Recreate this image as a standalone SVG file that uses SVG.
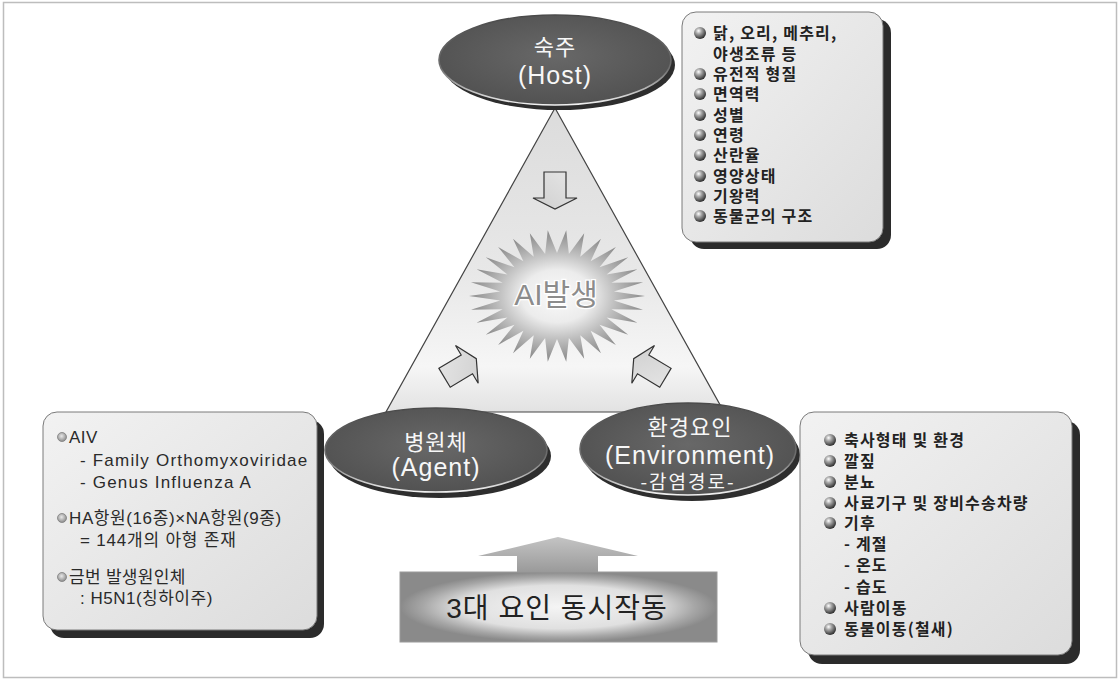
<svg xmlns="http://www.w3.org/2000/svg" width="1120" height="679" viewBox="0 0 1120 679">
<defs>
<linearGradient id="triG" x1="0" y1="0" x2="0" y2="1">
<stop offset="0" stop-color="#dcdcdc"/>
<stop offset="0.55" stop-color="#e8e8e8"/>
<stop offset="0.85" stop-color="#f6f6f6"/>
<stop offset="1" stop-color="#e2e2e2"/>
</linearGradient>
<radialGradient id="burstG" cx="0.5" cy="0.5" r="0.5">
<stop offset="0" stop-color="#fafafa"/>
<stop offset="0.4" stop-color="#ececec"/>
<stop offset="0.68" stop-color="#bcbcbc"/>
<stop offset="1" stop-color="#888888"/>
</radialGradient>
<radialGradient id="ellG" cx="0.5" cy="0.45" r="0.6">
<stop offset="0" stop-color="#686868"/>
<stop offset="1" stop-color="#505050"/>
</radialGradient>
<linearGradient id="ellS" x1="0" y1="0" x2="0" y2="1">
<stop offset="0" stop-color="#4a4a4a"/>
<stop offset="0.6" stop-color="#707070"/>
<stop offset="1" stop-color="#f2f2f2"/>
</linearGradient>
<linearGradient id="boxG" x1="0" y1="0" x2="1" y2="1">
<stop offset="0" stop-color="#f2f2f2"/>
<stop offset="1" stop-color="#dcdcdc"/>
</linearGradient>
<radialGradient id="ball" cx="0.38" cy="0.32" r="0.7">
<stop offset="0" stop-color="#ffffff"/>
<stop offset="0.35" stop-color="#a8a8a8"/>
<stop offset="1" stop-color="#2a2a2a"/>
</radialGradient>
<radialGradient id="dot" cx="0.45" cy="0.4" r="0.6">
<stop offset="0" stop-color="#e8e8e8"/>
<stop offset="1" stop-color="#8a8a8a"/>
</radialGradient>
<linearGradient id="arrG" x1="0" y1="0" x2="1" y2="1">
<stop offset="0" stop-color="#e6e6e6"/>
<stop offset="1" stop-color="#cfcfcf"/>
</linearGradient>
<radialGradient id="baseG" cx="0.5" cy="0.5" r="0.5">
<stop offset="0" stop-color="#f4f4f4"/>
<stop offset="0.62" stop-color="#e0e0e0"/>
<stop offset="0.86" stop-color="#a6a6a6"/>
<stop offset="1" stop-color="#8a8a8a"/>
</radialGradient>
<linearGradient id="upG" x1="0" y1="0" x2="0" y2="1">
<stop offset="0" stop-color="#c4c4c4"/>
<stop offset="1" stop-color="#9a9a9a"/>
</linearGradient>
<path id="blk" d="M-18,-11 L8,-11 L8,-22 L19,0 L8,22 L8,11 L-18,11 Z"/>
</defs>
<style>
.ko{font-family:'Noto Sans CJK KR','Noto Sans',sans-serif;}
.mx{font-family:'Liberation Sans','Noto Sans CJK KR',sans-serif;}
.eT{fill:#f7f7f7;text-anchor:middle;}
.eK{font-size:22px;letter-spacing:1px;}
.eL{font-size:25px;letter-spacing:1px;}
.shadow{fill:#2b2b2b;}
.box{fill:url(#boxG);stroke:#7a7a7a;stroke-width:1;}
.bt{font-size:16px;font-weight:bold;fill:#222;letter-spacing:1.2px;}
.at{font-size:17px;fill:#2a2a2a;}
.ball{fill:url(#ball);}
.dot{fill:url(#dot);stroke:#808080;stroke-width:0.8;}
.eSh{fill:#2e2e2e;}
.eMain{fill:url(#ellG);stroke:url(#ellS);stroke-width:1.6;}
.arr{fill:url(#arrG);stroke:#333;stroke-width:1.2;stroke-linejoin:miter;}
</style>
<rect x="3.5" y="2.5" width="1113" height="675" fill="#fff" stroke="#bdbdbd" stroke-width="1.5"/>

<g id="triangle">
<polygon points="555,108 386,412 724,412" fill="url(#triG)" stroke="#444" stroke-width="1.2"/>
</g>

<g id="ai-outbreak">
<path transform="translate(557,296) scale(0.88,0.66)" fill="url(#burstG)" d="M100,0 L64.6,6.8 97.8,20.8 61.8,20.1 91.4,40.7 56.3,32.5 80.9,58.8 48.3,43.5 66.9,74.3 38.2,52.6 50,86.6 26.4,59.4 30.9,95.1 13.5,63.6 10.5,99.5 0,65 -10.5,99.5 -13.5,63.6 -30.9,95.1 -26.4,59.4 -50,86.6 -38.2,52.6 -66.9,74.3 -48.3,43.5 -80.9,58.8 -56.3,32.5 -91.4,40.7 -61.8,20.1 -97.8,20.8 -64.6,6.8 -100,0 -64.6,-6.8 -97.8,-20.8 -61.8,-20.1 -91.4,-40.7 -56.3,-32.5 -80.9,-58.8 -48.3,-43.5 -66.9,-74.3 -38.2,-52.6 -50,-86.6 -26.4,-59.4 -30.9,-95.1 -13.5,-63.6 -10.5,-99.5 0,-65 10.5,-99.5 13.5,-63.6 30.9,-95.1 26.4,-59.4 50,-86.6 38.2,-52.6 66.9,-74.3 48.3,-43.5 80.9,-58.8 56.3,-32.5 91.4,-40.7 61.8,-20.1 97.8,-20.8 64.6,-6.8 Z"/>
<text x="556" y="305" class="mx" font-size="30" fill="#8c8c8c" stroke="#ffffff" stroke-width="2.5" paint-order="stroke" text-anchor="middle">AI발생</text>
</g>

<g id="connectors">
<use href="#blk" class="arr" transform="translate(555,190) rotate(90)"/>
<use href="#blk" class="arr" transform="translate(460,368.5) rotate(-31)"/>
<use href="#blk" class="arr" transform="translate(650,368.5) rotate(-149)"/>
<polygon points="517,572 517,556 478,556 558,537 638,556 598,556 598,572" fill="url(#upG)"/>
</g>

<g id="host">
<ellipse cx="559" cy="65" rx="116" ry="45" class="eSh"/>
<ellipse cx="555" cy="60" rx="116" ry="45" class="eMain"/>
<text x="555" y="55" class="ko eT eK">숙주</text>
<text x="555" y="84" class="mx eT eL">(Host)</text>
</g>

<g id="agent">
<ellipse cx="440" cy="456" rx="111" ry="42" class="eSh"/>
<ellipse cx="436" cy="450" rx="111" ry="42" class="eMain"/>
<text x="436" y="450" class="ko eT eK">병원체</text>
<text x="436" y="476" class="mx eT eL">(Agent)</text>
</g>

<g id="environment">
<ellipse cx="692" cy="455" rx="108" ry="46" class="eSh"/>
<ellipse cx="688" cy="449" rx="108" ry="46" class="eMain"/>
<text x="690" y="435" class="ko eT eK">환경요인</text>
<text x="690" y="464" class="mx eT eL" letter-spacing="1.8">(Environment)</text>
<text x="688" y="489" class="ko eT" font-size="19" letter-spacing="2">-감염경로-</text>
</g>

<g id="host-factors">
<rect x="690" y="19" width="201" height="230" rx="14" class="shadow"/>
<rect x="682" y="12" width="201" height="230" rx="14" class="box"/>
<circle cx="700" cy="33" r="6" class="ball"/>
<circle cx="700" cy="74" r="6" class="ball"/>
<circle cx="700" cy="94" r="6" class="ball"/>
<circle cx="700" cy="115" r="6" class="ball"/>
<circle cx="700" cy="135" r="6" class="ball"/>
<circle cx="700" cy="155" r="6" class="ball"/>
<circle cx="700" cy="176" r="6" class="ball"/>
<circle cx="700" cy="196" r="6" class="ball"/>
<circle cx="700" cy="216" r="6" class="ball"/>
<g class="ko bt">
<text x="713" y="39">닭, 오리, 메추리,</text>
<text x="713" y="60">야생조류 등</text>
<text x="713" y="80">유전적 형질</text>
<text x="713" y="100">면역력</text>
<text x="713" y="121">성별</text>
<text x="713" y="141">연령</text>
<text x="713" y="161">산란율</text>
<text x="713" y="182">영양상태</text>
<text x="713" y="202">기왕력</text>
<text x="713" y="222">동물군의 구조</text>
</g>
</g>

<g id="agent-factors">
<rect x="50" y="420" width="274" height="218" rx="14" class="shadow"/>
<rect x="43" y="412" width="274" height="218" rx="14" class="box"/>
<circle cx="62" cy="437" r="4.5" class="dot"/>
<circle cx="62" cy="518" r="4.5" class="dot"/>
<circle cx="62" cy="577" r="4.5" class="dot"/>
<g class="mx at">
<text x="69" y="443" letter-spacing="0.5">AIV</text>
<text x="80" y="466" letter-spacing="1.2">- Family Orthomyxoviridae</text>
<text x="80" y="488" letter-spacing="1.2">- Genus Influenza A</text>
<text x="69" y="524" letter-spacing="0.6">HA항원(16종)×NA항원(9종)</text>
<text x="80" y="546" letter-spacing="0.8">= 144개의 아형 존재</text>
<text x="69" y="583" letter-spacing="0.3">금번 발생원인체</text>
<text x="80" y="604" letter-spacing="0.5">: H5N1(칭하이주)</text>
</g>
</g>

<g id="environment-factors">
<rect x="808" y="421" width="272" height="243" rx="14" class="shadow"/>
<rect x="800" y="412" width="272" height="243" rx="14" class="box"/>
<circle cx="830" cy="440" r="6" class="ball"/>
<circle cx="830" cy="461" r="6" class="ball"/>
<circle cx="830" cy="482" r="6" class="ball"/>
<circle cx="830" cy="503" r="6" class="ball"/>
<circle cx="830" cy="523" r="6" class="ball"/>
<circle cx="830" cy="608" r="6" class="ball"/>
<circle cx="830" cy="629" r="6" class="ball"/>
<g class="ko bt">
<text x="844" y="446">축사형태 및 환경</text>
<text x="844" y="467">깔짚</text>
<text x="844" y="488">분뇨</text>
<text x="844" y="509">사료기구 및 장비수송차량</text>
<text x="844" y="529">기후</text>
<text x="844" y="550">- 계절</text>
<text x="844" y="571">- 온도</text>
<text x="844" y="593">- 습도</text>
<text x="844" y="614">사람이동</text>
<text x="844" y="635">동물이동(철새)</text>
</g>
</g>

<g id="simultaneous">
<rect x="400" y="572" width="317" height="70" fill="url(#baseG)" stroke="#9a9a9a" stroke-width="1"/>
<text x="557" y="618" class="mx" font-size="28" letter-spacing="1" fill="#222" text-anchor="middle">3대 요인 동시작동</text>
</g>
</svg>
